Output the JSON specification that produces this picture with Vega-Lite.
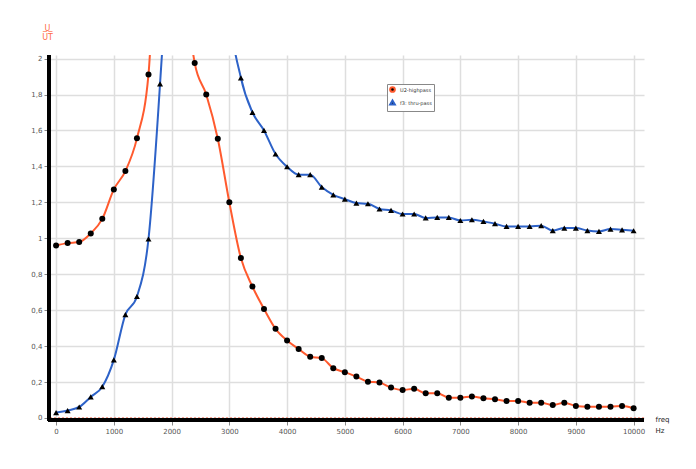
{
  "$schema": "https://vega.github.io/schema/vega-lite/v6.json",
  "autosize": {"type": "none"},
  "width": 596,
  "height": 366,
  "padding": {"left": 48, "top": 55, "right": 52, "bottom": 48},
  "background": "white",
  "config": {
    "font": "DejaVu Sans",
    "view": {"stroke": null},
    "axis": {
      "gridColor": "#dedede",
      "gridWidth": 1.5,
      "tickColor": "#888888",
      "tickSize": 4,
      "labelColor": "#555555",
      "labelFontSize": 7,
      "labelPadding": 2
    },
    "legend": {
      "orient": "none",
      "legendX": 339,
      "legendY": 29,
      "fillColor": "white",
      "strokeColor": "#888888",
      "padding": 2,
      "labelFontSize": 5,
      "labelColor": "#333333",
      "symbolSize": 22,
      "symbolStrokeWidth": 2,
      "symbolFillColor": "black",
      "rowPadding": 0,
      "labelLimit": 80,
      "labelOffset": 4
    }
  },
  "data": {"values": [
    {"f": 0, "v": 0.96, "s": "U2-highpass"},
    {"f": 200, "v": 0.973, "s": "U2-highpass"},
    {"f": 400, "v": 0.979, "s": "U2-highpass"},
    {"f": 600, "v": 1.027, "s": "U2-highpass"},
    {"f": 800, "v": 1.108, "s": "U2-highpass"},
    {"f": 1000, "v": 1.272, "s": "U2-highpass"},
    {"f": 1200, "v": 1.374, "s": "U2-highpass"},
    {"f": 1400, "v": 1.556, "s": "U2-highpass"},
    {"f": 1600, "v": 1.912, "s": "U2-highpass"},
    {"f": 1800, "v": 3.5, "s": "U2-highpass"},
    {"f": 2000, "v": 6, "s": "U2-highpass"},
    {"f": 2200, "v": 2.8, "s": "U2-highpass"},
    {"f": 2400, "v": 1.976, "s": "U2-highpass"},
    {"f": 2600, "v": 1.8, "s": "U2-highpass"},
    {"f": 2800, "v": 1.554, "s": "U2-highpass"},
    {"f": 3000, "v": 1.2, "s": "U2-highpass"},
    {"f": 3200, "v": 0.89, "s": "U2-highpass"},
    {"f": 3400, "v": 0.731, "s": "U2-highpass"},
    {"f": 3600, "v": 0.607, "s": "U2-highpass"},
    {"f": 3800, "v": 0.496, "s": "U2-highpass"},
    {"f": 4000, "v": 0.431, "s": "U2-highpass"},
    {"f": 4200, "v": 0.384, "s": "U2-highpass"},
    {"f": 4400, "v": 0.341, "s": "U2-highpass"},
    {"f": 4600, "v": 0.333, "s": "U2-highpass"},
    {"f": 4800, "v": 0.277, "s": "U2-highpass"},
    {"f": 5000, "v": 0.255, "s": "U2-highpass"},
    {"f": 5200, "v": 0.23, "s": "U2-highpass"},
    {"f": 5400, "v": 0.202, "s": "U2-highpass"},
    {"f": 5600, "v": 0.197, "s": "U2-highpass"},
    {"f": 5800, "v": 0.169, "s": "U2-highpass"},
    {"f": 6000, "v": 0.156, "s": "U2-highpass"},
    {"f": 6200, "v": 0.162, "s": "U2-highpass"},
    {"f": 6400, "v": 0.137, "s": "U2-highpass"},
    {"f": 6600, "v": 0.137, "s": "U2-highpass"},
    {"f": 6800, "v": 0.113, "s": "U2-highpass"},
    {"f": 7000, "v": 0.113, "s": "U2-highpass"},
    {"f": 7200, "v": 0.119, "s": "U2-highpass"},
    {"f": 7400, "v": 0.11, "s": "U2-highpass"},
    {"f": 7600, "v": 0.104, "s": "U2-highpass"},
    {"f": 7800, "v": 0.095, "s": "U2-highpass"},
    {"f": 8000, "v": 0.095, "s": "U2-highpass"},
    {"f": 8200, "v": 0.085, "s": "U2-highpass"},
    {"f": 8400, "v": 0.085, "s": "U2-highpass"},
    {"f": 8600, "v": 0.072, "s": "U2-highpass"},
    {"f": 8800, "v": 0.085, "s": "U2-highpass"},
    {"f": 9000, "v": 0.067, "s": "U2-highpass"},
    {"f": 9200, "v": 0.063, "s": "U2-highpass"},
    {"f": 9400, "v": 0.063, "s": "U2-highpass"},
    {"f": 9600, "v": 0.063, "s": "U2-highpass"},
    {"f": 9800, "v": 0.067, "s": "U2-highpass"},
    {"f": 10000, "v": 0.054, "s": "U2-highpass"},
    {"f": 0, "v": 0.03, "s": "f3: thru-pass"},
    {"f": 200, "v": 0.041, "s": "f3: thru-pass"},
    {"f": 400, "v": 0.061, "s": "f3: thru-pass"},
    {"f": 600, "v": 0.117, "s": "f3: thru-pass"},
    {"f": 800, "v": 0.174, "s": "f3: thru-pass"},
    {"f": 1000, "v": 0.323, "s": "f3: thru-pass"},
    {"f": 1200, "v": 0.575, "s": "f3: thru-pass"},
    {"f": 1400, "v": 0.676, "s": "f3: thru-pass"},
    {"f": 1600, "v": 0.996, "s": "f3: thru-pass"},
    {"f": 1800, "v": 1.859, "s": "f3: thru-pass"},
    {"f": 2000, "v": 3.0, "s": "f3: thru-pass"},
    {"f": 2200, "v": 5, "s": "f3: thru-pass"},
    {"f": 2400, "v": 8, "s": "f3: thru-pass"},
    {"f": 2600, "v": 6, "s": "f3: thru-pass"},
    {"f": 2800, "v": 3.5, "s": "f3: thru-pass"},
    {"f": 3000, "v": 2.3, "s": "f3: thru-pass"},
    {"f": 3200, "v": 1.893, "s": "f3: thru-pass"},
    {"f": 3400, "v": 1.701, "s": "f3: thru-pass"},
    {"f": 3600, "v": 1.6, "s": "f3: thru-pass"},
    {"f": 3800, "v": 1.469, "s": "f3: thru-pass"},
    {"f": 4000, "v": 1.398, "s": "f3: thru-pass"},
    {"f": 4200, "v": 1.354, "s": "f3: thru-pass"},
    {"f": 4400, "v": 1.354, "s": "f3: thru-pass"},
    {"f": 4600, "v": 1.285, "s": "f3: thru-pass"},
    {"f": 4800, "v": 1.242, "s": "f3: thru-pass"},
    {"f": 5000, "v": 1.218, "s": "f3: thru-pass"},
    {"f": 5200, "v": 1.196, "s": "f3: thru-pass"},
    {"f": 5400, "v": 1.192, "s": "f3: thru-pass"},
    {"f": 5600, "v": 1.163, "s": "f3: thru-pass"},
    {"f": 5800, "v": 1.155, "s": "f3: thru-pass"},
    {"f": 6000, "v": 1.135, "s": "f3: thru-pass"},
    {"f": 6200, "v": 1.135, "s": "f3: thru-pass"},
    {"f": 6400, "v": 1.113, "s": "f3: thru-pass"},
    {"f": 6600, "v": 1.116, "s": "f3: thru-pass"},
    {"f": 6800, "v": 1.116, "s": "f3: thru-pass"},
    {"f": 7000, "v": 1.099, "s": "f3: thru-pass"},
    {"f": 7200, "v": 1.103, "s": "f3: thru-pass"},
    {"f": 7400, "v": 1.094, "s": "f3: thru-pass"},
    {"f": 7600, "v": 1.081, "s": "f3: thru-pass"},
    {"f": 7800, "v": 1.066, "s": "f3: thru-pass"},
    {"f": 8000, "v": 1.066, "s": "f3: thru-pass"},
    {"f": 8200, "v": 1.066, "s": "f3: thru-pass"},
    {"f": 8400, "v": 1.07, "s": "f3: thru-pass"},
    {"f": 8600, "v": 1.043, "s": "f3: thru-pass"},
    {"f": 8800, "v": 1.057, "s": "f3: thru-pass"},
    {"f": 9000, "v": 1.057, "s": "f3: thru-pass"},
    {"f": 9200, "v": 1.043, "s": "f3: thru-pass"},
    {"f": 9400, "v": 1.038, "s": "f3: thru-pass"},
    {"f": 9600, "v": 1.051, "s": "f3: thru-pass"},
    {"f": 9800, "v": 1.047, "s": "f3: thru-pass"},
    {"f": 10000, "v": 1.042, "s": "f3: thru-pass"}
  ]},
  "encoding": {
    "x": {
      "field": "f", "type": "quantitative",
      "scale": {"domain": [-140, 10180], "nice": false, "zero": false},
      "axis": {
        "values": [0, 1000, 2000, 3000, 4000, 5000, 6000, 7000, 8000, 9000, 10000],
        "format": "d",
        "domain": false,
        "title": ["freq", "Hz"],
        "titleFontSize": 7,
        "titleFontWeight": "normal",
        "titleColor": "#222222",
        "titleAlign": "left",
        "titleBaseline": "middle",
        "titleLineHeight": 11,
        "titleX": 607,
        "titleY": -2
      }
    },
    "y": {
      "field": "v", "type": "quantitative",
      "scale": {"domain": [-0.017, 2.02], "nice": false, "zero": false},
      "axis": {
        "values": [0, 0.2, 0.4, 0.6, 0.8, 1, 1.2, 1.4, 1.6, 1.8, 2],
        "labelExpr": "replace(format(datum.value, '.1~f'), '.', ',')",
        "domain": false,
        "title": ["U", "U̅T̅"],
        "titleColor": "#ff6a45",
        "titleFontSize": 8,
        "titleFontWeight": "normal",
        "titleAngle": 0,
        "titleAlign": "center",
        "titleBaseline": "alphabetic",
        "titleLineHeight": 9,
        "titleX": -1,
        "titleY": -25
      }
    }
  },
  "layer": [
    {
      "mark": {"type": "rule", "color": "#f5a594", "strokeDash": [2, 2], "strokeWidth": 1},
      "encoding": {"y": {"datum": 0}, "x": null}
    },
    {
      "mark": {"type": "rule", "color": "#000000", "strokeWidth": 3, "opacity": 1},
      "encoding": {"y": {"datum": -0.012}, "x": null}
    },
    {
      "mark": {"type": "rule", "color": "#000000", "strokeWidth": 3, "opacity": 1},
      "encoding": {
        "x": {"datum": -122, "type": "quantitative"},
        "y": {"datum": -0.017, "type": "quantitative"},
        "y2": {"datum": 2.02}
      }
    },
    {
      "mark": {"type": "line", "interpolate": "monotone", "strokeWidth": 2, "clip": true},
      "encoding": {
        "color": {
          "field": "s", "type": "nominal",
          "scale": {"domain": ["U2-highpass", "f3: thru-pass"], "range": ["#ff5a2e", "#2d62c8"]},
          "legend": {"title": null}
        }
      }
    },
    {
      "mark": {"type": "point", "filled": true, "color": "black", "opacity": 1, "size": 36, "clip": true},
      "encoding": {
        "shape": {
          "field": "s", "type": "nominal",
          "scale": {"domain": ["U2-highpass", "f3: thru-pass"], "range": ["circle", "triangle-up"]},
          "legend": null
        }
      }
    }
  ]
}
